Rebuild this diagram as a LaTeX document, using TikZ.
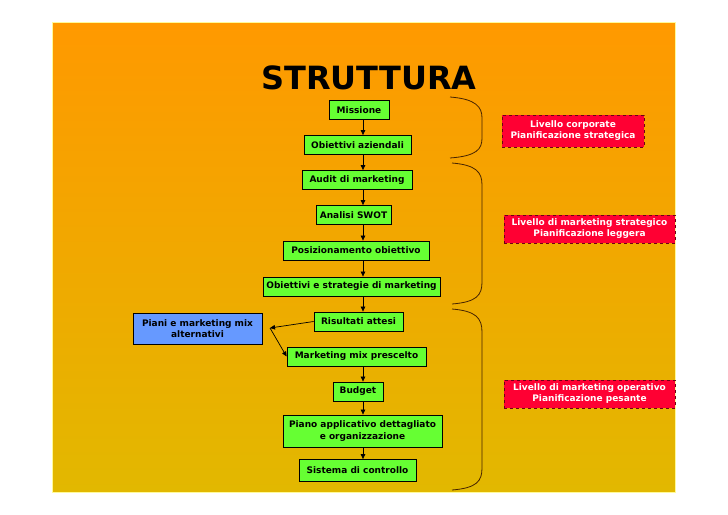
\documentclass[tikz,border=0pt]{standalone}
\usepackage{fontspec}
\setmainfont{DejaVu Sans}
\usetikzlibrary{arrows.meta}
\definecolor{orTop}{RGB}{255,153,0}
\definecolor{orBot}{RGB}{226,184,0}
\definecolor{gfill}{RGB}{102,255,51}
\definecolor{bfill}{RGB}{102,153,255}
\definecolor{rfill}{RGB}{255,0,51}
\definecolor{rline}{RGB}{110,0,20}
\definecolor{bracecol}{RGB}{70,35,0}
\begin{document}
\begin{tikzpicture}[x=1pt,y=-1pt,
  box/.style={draw=black, line width=0.8pt, inner sep=0pt,
    font=\fontsize{9}{11.5}\selectfont\bfseries, align=center, text=black},
  gbox/.style={box, fill=gfill, minimum height=19pt},
  bbox/.style={box, fill=bfill},
  rbox/.style={draw=rline, dashed, line width=0.7pt, fill=rfill, inner sep=0pt,
    font=\fontsize{9}{11}\selectfont\bfseries, align=center, text=white},
  arr/.style={-{Triangle[length=5pt,width=4.5pt]}, line width=0.7pt, draw=black},
  bracket/.style={draw=bracecol, line width=0.8pt}
]
\useasboundingbox (0,0) rectangle (728,514);
% slide background
\shade[top color=orTop, bottom color=orBot] (52,22) rectangle (675,492);
\draw[yellow!40, line width=0.5pt] (52,22) rectangle (675,492);

% title
\node[font=\fontsize{32}{36}\selectfont\bfseries, text=black] (title) at (369,78) {STRUTTURA};

% main column
\node[gbox, minimum width=60pt] (mis) at (359,110) {Missione};
\node[gbox, minimum width=107pt] (oa) at (357.5,145) {Obiettivi aziendali};
\node[gbox, minimum width=110pt] (aud) at (357,180) {Audit di marketing};
\node[gbox, minimum width=75pt] (swot) at (353.5,215) {Analisi SWOT};
\node[gbox, minimum width=146pt] (pos) at (356,250.5) {Posizionamento obiettivo};
\node[gbox, minimum width=177pt] (oes) at (351.5,286.5) {Obiettivi e strategie di marketing};
\node[gbox, minimum width=89pt] (ris) at (358.5,321.5) {Risultati attesi};
\node[gbox, minimum width=139pt] (mmp) at (356.5,356.5) {Marketing mix prescelto};
\node[gbox, minimum width=50pt] (bud) at (358,391.5) {Budget};
\node[gbox, minimum width=159pt, minimum height=32pt] (pia) at (362.5,431) {Piano applicativo dettagliato\\e organizzazione};
\node[gbox, minimum width=117pt, minimum height=22pt] (sis) at (357.5,470.5) {Sistema di controllo};

% alternative plans
\node[bbox, minimum width=129pt, minimum height=31pt] (alt) at (197.5,328.5) {Piani e marketing mix\\alternativi};
\coordinate (altp) at (270,328);

% level labels
\node[rbox, minimum width=142pt, minimum height=32pt] (lc) at (573,131) {Livello corporate\\Pianificazione strategica};
\node[rbox, minimum width=171pt, minimum height=28pt] (lms) at (589.5,229) {Livello di marketing strategico\\Pianificazione leggera};
\node[rbox, minimum width=171pt, minimum height=28pt] (lmo) at (589.5,394) {Livello di marketing operativo\\Pianificazione pesante};

% vertical flow
\coordinate (xl) at (363,0);
\draw[arr] (mis.south -| xl) -- (oa.north -| xl);
\draw[arr] (oa.south -| xl) -- (aud.north -| xl);
\draw[arr] (aud.south -| xl) -- (swot.north -| xl);
\draw[arr] (swot.south -| xl) -- (pos.north -| xl);
\draw[arr] (pos.south -| xl) -- (oes.north -| xl);
\draw[arr] (oes.south -| xl) -- (ris.north -| xl);
\draw[arr] (mmp.south -| xl) -- (bud.north -| xl);
\draw[arr] (bud.south -| xl) -- (pia.north -| xl);
\draw[arr] (pia.south -| xl) -- (sis.north -| xl);
% loop through alternatives
\draw[arr] (ris.west) -- (altp);
\draw[arr] (altp) -- (mmp.west);

% brackets
\draw[bracket] (450,97) .. controls (476,99) and (482,107) .. (482,118) -- (482,138) .. controls (482,149) and (477,156) .. (450,158);
\draw[bracket] (452,163) .. controls (476,165) and (482,172) .. (482,185) -- (482,282) .. controls (482,295) and (477,302) .. (452,304);
\draw[bracket] (452,309) .. controls (476,311) and (482,318) .. (482,332) -- (482,468) .. controls (482,481) and (477,488) .. (452,490);
\end{tikzpicture}
\end{document}
